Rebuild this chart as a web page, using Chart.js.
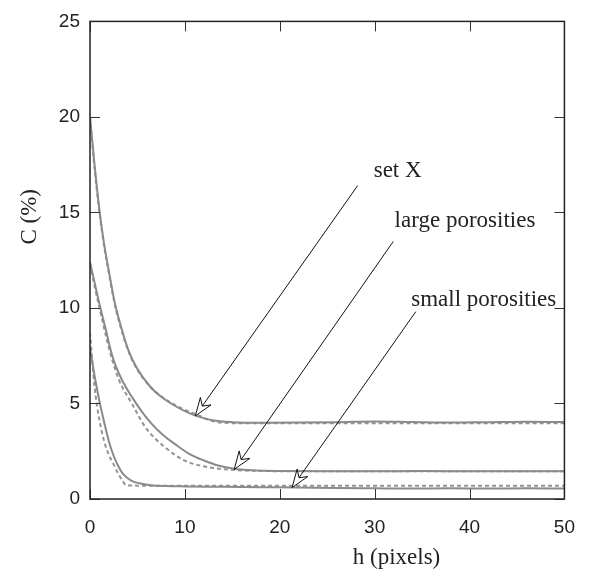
<!DOCTYPE html>
<html>
<head>
<meta charset="utf-8">
<script src="https://cdn.jsdelivr.net/npm/chart.js@4/dist/chart.umd.min.js"></script>
<style>
  html, body { margin: 0; padding: 0; background: #fff; }
  #wrap { width: 592px; height: 578px; position: relative; }
</style>
</head>
<body>
<div id="wrap"><canvas id="c"></canvas></div>
<script>
// Axis ticks
const xTicks = [0, 10, 20, 30, 40, 50];
const yTicks = [0, 5, 10, 15, 20, 25];

// Set X
const setXH      = [0, 0.5, 1, 1.5, 2, 2.6, 3, 4, 5, 6.4, 7.5, 8.8, 10, 11.2, 12.9, 15, 18, 22, 26, 30, 34, 38, 42, 46, 50];
const setXSolid  = [20.0, 17.4, 15.1, 13.3, 11.9, 10.3, 9.5, 7.85, 6.8, 5.85, 5.35, 4.92, 4.6, 4.35, 4.12, 4.02, 3.99, 4.0, 4.02, 4.06, 4.03, 4.0, 4.02, 4.04, 4.03];
const setXDashed = [20.0, 17.2, 15.0, 13.2, 11.8, 10.2, 9.4, 7.8, 6.75, 5.85, 5.38, 4.97, 4.66, 4.43, 4.08, 3.97, 3.96, 3.97, 3.97, 3.97, 3.97, 3.97, 3.97, 3.97, 3.97];

// Large porosities
const largeSolidH  = [0, 0.5, 1, 1.6, 2.4, 3.4, 4.5, 5.5, 6.55, 7.7, 8.97, 10.5, 12.07, 13.5, 15.2, 17, 20, 25, 30, 35, 40, 45, 50];
const largeSolid   = [12.4, 11.3, 10.2, 9.0, 7.4, 6.2, 5.28, 4.55, 3.91, 3.35, 2.87, 2.35, 2.0, 1.75, 1.58, 1.5, 1.46, 1.45, 1.45, 1.46, 1.45, 1.45, 1.45];
const largeDashedH = [0, 0.5, 1, 2, 3, 4.48, 5.86, 7.93, 10, 12.4, 14.8, 18, 22, 30, 40, 50];
const largeDashed  = [12.3, 11.1, 10.0, 7.9, 6.3, 4.94, 3.74, 2.70, 2.01, 1.67, 1.53, 1.47, 1.45, 1.45, 1.45, 1.45];

// Small porosities
const smallSolidH  = [0, 0.5, 1, 1.5, 2, 2.5, 3, 3.5, 4.3, 5.2, 6.4, 8, 10, 14, 18, 22, 26, 30, 34, 38, 42, 46, 50];
const smallSolid   = [7.9, 6.4, 5.1, 4.0, 3.0, 2.25, 1.7, 1.3, 0.98, 0.82, 0.72, 0.68, 0.66, 0.64, 0.62, 0.6, 0.57, 0.56, 0.55, 0.56, 0.55, 0.56, 0.55];
const smallDashedH = [0, 0.5, 1, 1.5, 2, 2.5, 3, 3.5, 3.8, 5, 10, 20, 30, 40, 50];
const smallDashed  = [8.7, 5.8, 4.1, 3.0, 2.3, 1.8, 1.3, 0.9, 0.72, 0.7, 0.7, 0.7, 0.7, 0.7, 0.7];

// Labels with arrows, in data coordinates
const notes = [
  { text: 'set X',            at: [29.9, 17.15], tail: [28.2, 16.4],  tip: [11.1, 4.35] },
  { text: 'large porosities', at: [32.1, 14.57], tail: [31.96, 13.48], tip: [15.2, 1.55] },
  { text: 'small porosities', at: [33.85, 10.43], tail: [34.34, 9.81], tip: [21.3, 0.6] }
];

const pts = (hs, cs) => hs.map((h, i) => ({ x: h, y: cs[i] }));

const LINE = '#8a8a8a';
const solid = (label, hs, cs) => ({
  label, data: pts(hs, cs), borderColor: LINE, borderWidth: 2,
  pointRadius: 0, cubicInterpolationMode: 'monotone', fill: false
});
const dashed = (label, hs, cs) => ({
  label, data: pts(hs, cs), borderColor: '#939393', borderWidth: 2,
  borderDash: [4, 3], pointRadius: 0, cubicInterpolationMode: 'monotone', fill: false
});

const SERIF = '"Liberation Serif", "Times New Roman", serif';
const SANS = '"Liberation Sans", Arial, sans-serif';

// Box, inward tick marks, axis titles and arrow labels
const decorations = {
  id: 'decorations',
  afterDatasetsDraw(chart) {
    const { ctx, chartArea: a, scales: { x, y } } = chart;
    ctx.save();
    // inward ticks on all four sides
    ctx.strokeStyle = '#333';
    ctx.lineWidth = 1;
    ctx.beginPath();
    xTicks.forEach(v => {
      const px = Math.round(x.getPixelForValue(v)) + 0.5;
      ctx.moveTo(px, a.bottom); ctx.lineTo(px, a.bottom - 10);
      ctx.moveTo(px, a.top); ctx.lineTo(px, a.top + 10);
    });
    yTicks.forEach(v => {
      const py = Math.round(y.getPixelForValue(v)) + 0.5;
      ctx.moveTo(a.left, py); ctx.lineTo(a.left + 10, py);
      ctx.moveTo(a.right, py); ctx.lineTo(a.right - 10, py);
    });
    ctx.stroke();
    // frame
    ctx.strokeStyle = '#222';
    ctx.lineWidth = 1.5;
    ctx.strokeRect(a.left, a.top, a.right - a.left, a.bottom - a.top);

    // axis titles
    ctx.fillStyle = '#222';
    ctx.font = '23px ' + SERIF;
    ctx.textAlign = 'center';
    ctx.textBaseline = 'middle';
    ctx.fillText('h (pixels)', x.getPixelForValue(32.3), a.bottom + 59);
    ctx.save();
    ctx.translate(a.left - 60, y.getPixelForValue(14.77));
    ctx.rotate(-Math.PI / 2);
    ctx.fillText('C (%)', 0, 0);
    ctx.restore();

    // arrows and their labels
    notes.forEach(n => {
      const tx = x.getPixelForValue(n.tip[0]), ty = y.getPixelForValue(n.tip[1]);
      const sx = x.getPixelForValue(n.tail[0]), sy = y.getPixelForValue(n.tail[1]);
      const len = Math.hypot(sx - tx, sy - ty);
      const dx = (sx - tx) / len, dy = (sy - ty) / len;
      const nx = -dy, ny = dx;
      const L = 18, W = 6.5, N = 12;
      const nxp = tx + dx * N, nyp = ty + dy * N;
      ctx.strokeStyle = '#111';
      ctx.lineWidth = 1;
      ctx.beginPath();
      ctx.moveTo(sx, sy); ctx.lineTo(nxp, nyp);
      ctx.stroke();
      ctx.beginPath();
      ctx.moveTo(tx, ty);
      ctx.lineTo(tx + dx * L + nx * W, ty + dy * L + ny * W);
      ctx.lineTo(nxp, nyp);
      ctx.lineTo(tx + dx * L - nx * W, ty + dy * L - ny * W);
      ctx.closePath();
      ctx.fillStyle = '#fff';
      ctx.fill();
      ctx.stroke();

      ctx.fillStyle = '#222';
      ctx.font = '23px ' + SERIF;
      ctx.textAlign = 'left';
      ctx.textBaseline = 'middle';
      ctx.fillText(n.text, x.getPixelForValue(n.at[0]), y.getPixelForValue(n.at[1]));
    });
    ctx.restore();
  }
};

new Chart(document.getElementById('c'), {
  type: 'line',
  data: {
    datasets: [
      solid('set X', setXH, setXSolid),
      dashed('set X (dashed)', setXH, setXDashed),
      solid('large porosities', largeSolidH, largeSolid),
      dashed('large porosities (dashed)', largeDashedH, largeDashed),
      solid('small porosities', smallSolidH, smallSolid),
      dashed('small porosities (dashed)', smallDashedH, smallDashed)
    ]
  },
  options: {
    responsive: true,
    maintainAspectRatio: false,
    animation: false,
    events: [],
    layout: { padding: { top: 15, right: 19, left: 0, bottom: 0 } },
    plugins: { legend: { display: false }, tooltip: { enabled: false } },
    scales: {
      x: {
        type: 'linear', min: 0, max: 50,
        afterBuildTicks: s => { s.ticks = xTicks.map(v => ({ value: v })); },
        afterFit: s => { s.height = 79; },
        grid: { display: false, drawTicks: false },
        border: { display: false },
        ticks: { padding: 17, color: '#222', font: { family: SANS, size: 19 }, maxRotation: 0 }
      },
      y: {
        type: 'linear', min: 0, max: 25,
        afterBuildTicks: s => { s.ticks = yTicks.map(v => ({ value: v })); },
        afterFit: s => { s.width = 90; },
        grid: { display: false, drawTicks: false },
        border: { display: false },
        ticks: { padding: 10, color: '#222', font: { family: SANS, size: 19 } }
      }
    }
  },
  plugins: [decorations]
});
</script>
</body>
</html>
